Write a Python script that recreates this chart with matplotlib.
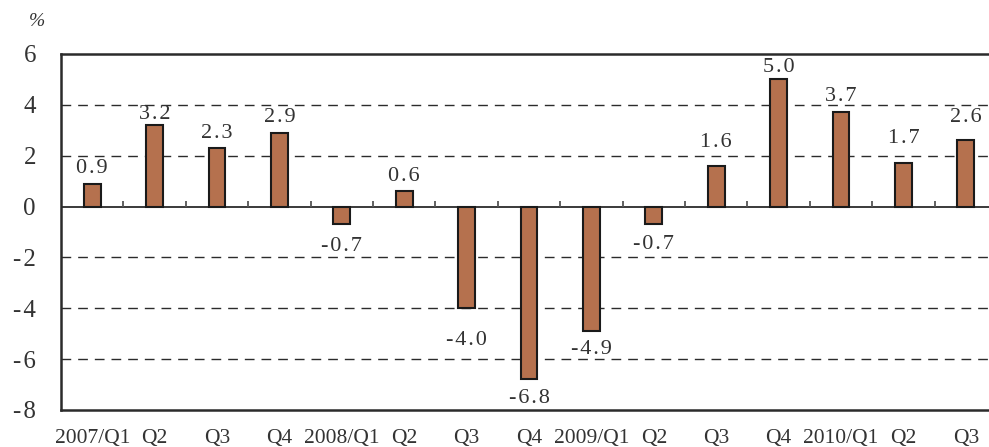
import numpy as np
import matplotlib.pyplot as plt

# quarterly growth, %
quarters = ["2007/Q1", "Q2", "Q3", "Q4", "2008/Q1", "Q2", "Q3", "Q4",
            "2009/Q1", "Q2", "Q3", "Q4", "2010/Q1", "Q2", "Q3"]
growth = [0.9, 3.2, 2.3, 2.9, -0.7, 0.6, -4.0, -6.8,
          -4.9, -0.7, 1.6, 5.0, 3.7, 1.7, 2.6]
yticks = [-8, -6, -4, -2, 0, 2, 4, 6]

# gap between bar end and its value label, in points
label_gap = [4, 1, 4, 4, 9, 4, 16, 7, 6, 8, 10, 1.5, 5, 11, 10]

FONT = "Liberation Serif"
BAR_COLOR = "#b5714e"
LINE_COLOR = "#2b2b2b"
TEXT_COLOR = "#333333"

fig = plt.figure(figsize=(9.89, 4.47), dpi=100)
ax = fig.add_axes([61 / 989, 37 / 447, 936 / 989, 356 / 447])

x = np.arange(len(quarters))
ax.bar(x, growth, width=0.27, color=BAR_COLOR, edgecolor="#1a1a1a",
       linewidth=1.5, zorder=3)

ax.set_xlim(-0.5, len(quarters) - 0.5)
ax.set_ylim(-8, 6)

# dashed gridlines, solid zero line with small category ticks
for v in yticks:
    if v in (-8, 0, 6):
        continue
    ax.axhline(v, color=LINE_COLOR, lw=1.0, ls=(0, (7, 5)), zorder=1)
ax.axhline(0, color=LINE_COLOR, lw=1.3, zorder=2)
ax.vlines(x[:-1] + 0.5, 0, 0.2, color="#555555", lw=1.3, zorder=2)

def spaced(s):
    return "\u200a".join(s)

for xi, v, gap in zip(x, growth, label_gap):
    off = gap if v >= 0 else -gap
    ax.annotate(spaced(f"{v:.1f}"), (xi, v), xytext=(0, off),
                textcoords="offset points", ha="center",
                va="bottom" if v >= 0 else "top",
                fontsize=16, family=FONT, color=TEXT_COLOR)

ax.set_yticks(yticks)
ax.set_yticklabels([str(t) if t >= 0 else "-\u200a" + str(-t) for t in yticks],
                   family=FONT, fontsize=18)
ax.set_xticks(x)
ax.set_xticklabels(quarters, family=FONT, fontsize=15.5)
ax.tick_params(axis="both", length=0, colors=TEXT_COLOR)
ax.tick_params(axis="y", pad=18)
ax.tick_params(axis="x", pad=14)

for side in ("left", "top", "bottom"):
    ax.spines[side].set_color(LINE_COLOR)
    ax.spines[side].set_linewidth(1.8)
ax.spines["right"].set_visible(False)

fig.text(37 / 989, 1 - 22 / 447, "%", family=FONT, fontsize=14,
         color=TEXT_COLOR, ha="center", va="center", style="italic")

fig.savefig("out.png", dpi=100)
